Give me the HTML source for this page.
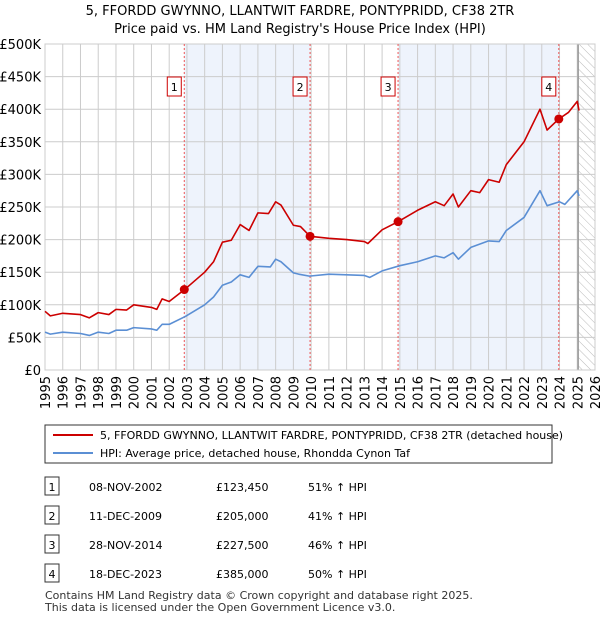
<!DOCTYPE html>
<html><head><meta charset="utf-8"><style>
body{margin:0;background:#fff;font-family:"Liberation Sans","DejaVu Sans",sans-serif;}
svg text{font-family:"DejaVu Sans","Liberation Sans",sans-serif;}
</style></head><body>
<svg id="c" width="600" height="620" xmlns="http://www.w3.org/2000/svg">
<defs><pattern id="hatch" width="6" height="6" patternUnits="userSpaceOnUse" patternTransform="rotate(-45)"><line x1="0" y1="0" x2="0" y2="6" stroke="#bbb" stroke-width="1"/></pattern></defs>
<text x="300" y="15" text-anchor="middle" font-size="13">5, FFORDD GWYNNO, LLANTWIT FARDRE, PONTYPRIDD, CF38 2TR</text>
<text x="300" y="33" text-anchor="middle" font-size="13">Price paid vs. HM Land Registry's House Price Index (HPI)</text>
<g id="plot"></g>
<g id="legend">
<rect x="45" y="425" width="507" height="38" fill="#fff" stroke="#333"/>
<line x1="53" y1="435" x2="93" y2="435" stroke="#cc0000" stroke-width="2"/>
<text x="100" y="439" font-size="11">5, FFORDD GWYNNO, LLANTWIT FARDRE, PONTYPRIDD, CF38 2TR (detached house)</text>
<line x1="53" y1="453" x2="93" y2="453" stroke="#5b8fd4" stroke-width="2"/>
<text x="100" y="457" font-size="11">HPI: Average price, detached house, Rhondda Cynon Taf</text>
</g>
<g id="table" font-size="11"></g>
<text x="45" y="599" font-size="11" fill="#333">Contains HM Land Registry data © Crown copyright and database right 2025.</text>
<text x="45" y="611" font-size="11" fill="#333">This data is licensed under the Open Government Licence v3.0.</text>
</svg>
<script>
const hpiYears=[1995,1995.3,1996,1997,1997.5,1998,1998.6,1999,1999.6,2000,2001,2001.3,2001.6,2002,2002.9,2004,2004.5,2005,2005.5,2006,2006.5,2007,2007.7,2008,2008.3,2009,2009.3,2009.9,2011,2012,2013,2013.3,2014,2015,2016,2017,2017.5,2018,2018.3,2019,2020,2020.6,2021,2022,2022.9,2023.3,2024,2024.3,2025,2025.1];
const hpiValues=[58,55,58,56,53,58,56,61,61,65,63,61,70,70,82,100,112,130,135,146,142,159,158,170,166,149,147,144,147,146,145,142,152,160,166,175,172,180,170,188,198,197,214,234,275,252,258,254,275,267];
const ppYears=[1995,1995.3,1996,1997,1997.5,1998,1998.6,1999,1999.6,2000,2001,2001.3,2001.6,2002,2002.85,2004,2004.5,2005,2005.5,2006,2006.5,2007,2007.6,2008,2008.3,2009,2009.4,2009.94,2011,2012,2013,2013.2,2014,2014.9,2016,2017,2017.5,2018,2018.3,2019,2019.5,2020,2020.6,2021,2022,2022.9,2023.3,2023.96,2024.5,2025,2025.1];
const ppValues=[90,83,87,85,80,88,85,93,92,100,96,93,109,105,123,150,166,196,199,223,214,241,240,258,253,222,220,205,202,200,197,194,215,227.5,245,258,252,270,250,275,272,292,288,315,350,400,368,385,395,412,398];
const saleYears=[2002.85,2009.94,2014.9,2023.96];
const saleValues=[123.45,205,227.5,385];
const saleLabels=["1","2","3","4"];
const saleDates=["08-NOV-2002","11-DEC-2009","28-NOV-2014","18-DEC-2023"];
const salePrices=["£123,450","£205,000","£227,500","£385,000"];
const salePct=["51% ↑ HPI","41% ↑ HPI","46% ↑ HPI","50% ↑ HPI"];
const yTicks=[0,50,100,150,200,250,300,350,400,450,500];
const yTickLabels=["£0","£50K","£100K","£150K","£200K","£250K","£300K","£350K","£400K","£450K","£500K"];
const xTicks=[1995,1996,1997,1998,1999,2000,2001,2002,2003,2004,2005,2006,2007,2008,2009,2010,2011,2012,2013,2014,2015,2016,2017,2018,2019,2020,2021,2022,2023,2024,2025,2026];
const dataEnd=2025.05;

const X0=45,X1=595,Y0=370,Y1=44;
const x=v=>X0+(v-1995)/(2026-1995)*(X1-X0);
const y=v=>Y0-v/500*(Y0-Y1);
const NS="http://www.w3.org/2000/svg";
const plot=document.getElementById('plot');
function mk(tag,attrs,parent){const e=document.createElementNS(NS,tag);for(const k in attrs)e.setAttribute(k,attrs[k]);(parent||plot).appendChild(e);return e;}

// shaded bands
for(let i=0;i<saleYears.length;i+=2){
 const x2=i+1<saleYears.length?x(saleYears[i+1]):X1;
 const r=mk('rect',{x:x(saleYears[i]),y:Y1,width:x2-x(saleYears[i]),height:Y0-Y1,fill:'#eef3fc'});
 
 
}
// hatch
const h=mk('rect',{x:x(dataEnd),y:Y1,width:X1-x(dataEnd),height:Y0-Y1,fill:'url(#hatch)'});


// grid
yTicks.forEach((t,i)=>{
 mk('line',{x1:X0,x2:X1,y1:y(t),y2:y(t),stroke:'#ccc'});
 const tx=mk('text',{x:X0-4,y:y(t)+5,'text-anchor':'end','font-size':'13'});tx.textContent=yTickLabels[i];
 
 
});
xTicks.forEach(t=>{
 mk('line',{x1:x(t),x2:x(t),y1:Y1,y2:Y0,stroke:'#ccc'});
 const tx=mk('text',{x:0,y:0,'font-size':'13','text-anchor':'end',transform:`translate(${x(t)+5},${Y0+6}) rotate(-90)`});tx.textContent=t;
 
 
});
mk('line',{x1:x(dataEnd),x2:x(dataEnd),y1:Y1,y2:Y0,stroke:'#999','stroke-width':1.5});
mk('rect',{x:X0,y:Y1,width:X1-X0,height:Y0-Y1,fill:'none',stroke:'#ccc'});
// sale lines
saleYears.forEach((s,i)=>{
 mk('line',{x1:x(s),x2:x(s),y1:Y1,y2:Y0,stroke:'#e55','stroke-dasharray':'2,2'});
});
function line(xs,vs,col,name){
 const p=mk('polyline',{points:xs.map((v,i)=>x(v)+','+y(vs[i])).join(' '),fill:'none',stroke:col,'stroke-width':1.6,'stroke-linejoin':'round'});
 
 
}
line(hpiYears,hpiValues,'#5b8fd4','hpi-line');
line(ppYears,ppValues,'#cc0000','price-paid-line');
saleYears.forEach((s,i)=>{
 const c=mk('circle',{cx:x(s),cy:y(saleValues[i]),r:4.5,fill:'#cc0000'});
 
 
 const bx=x(s)-17;
 const b=mk('rect',{x:bx,y:77,width:14,height:19,fill:'#fff',stroke:'#cc0000'});
 
 
 const t=mk('text',{x:bx+7,y:91,'text-anchor':'middle','font-size':'11'});t.textContent=saleLabels[i];
});
// table
const tb=document.getElementById('table');
saleLabels.forEach((l,i)=>{
 const ty=487+i*29;
 const r=mk('rect',{x:45,y:ty-10,width:14,height:18,fill:'#fff',stroke:'#333'},tb);
 
 
 const t0=mk('text',{x:52,y:ty+4,'text-anchor':'middle'},tb);t0.textContent=l;
 const t1=mk('text',{x:89,y:ty+4},tb);t1.textContent=saleDates[i];
 
 
 const t2=mk('text',{x:216,y:ty+4},tb);t2.textContent=salePrices[i];
 
 
 const t3=mk('text',{x:308,y:ty+4},tb);t3.textContent=salePct[i];
 
 
});
</script>
</body></html>
